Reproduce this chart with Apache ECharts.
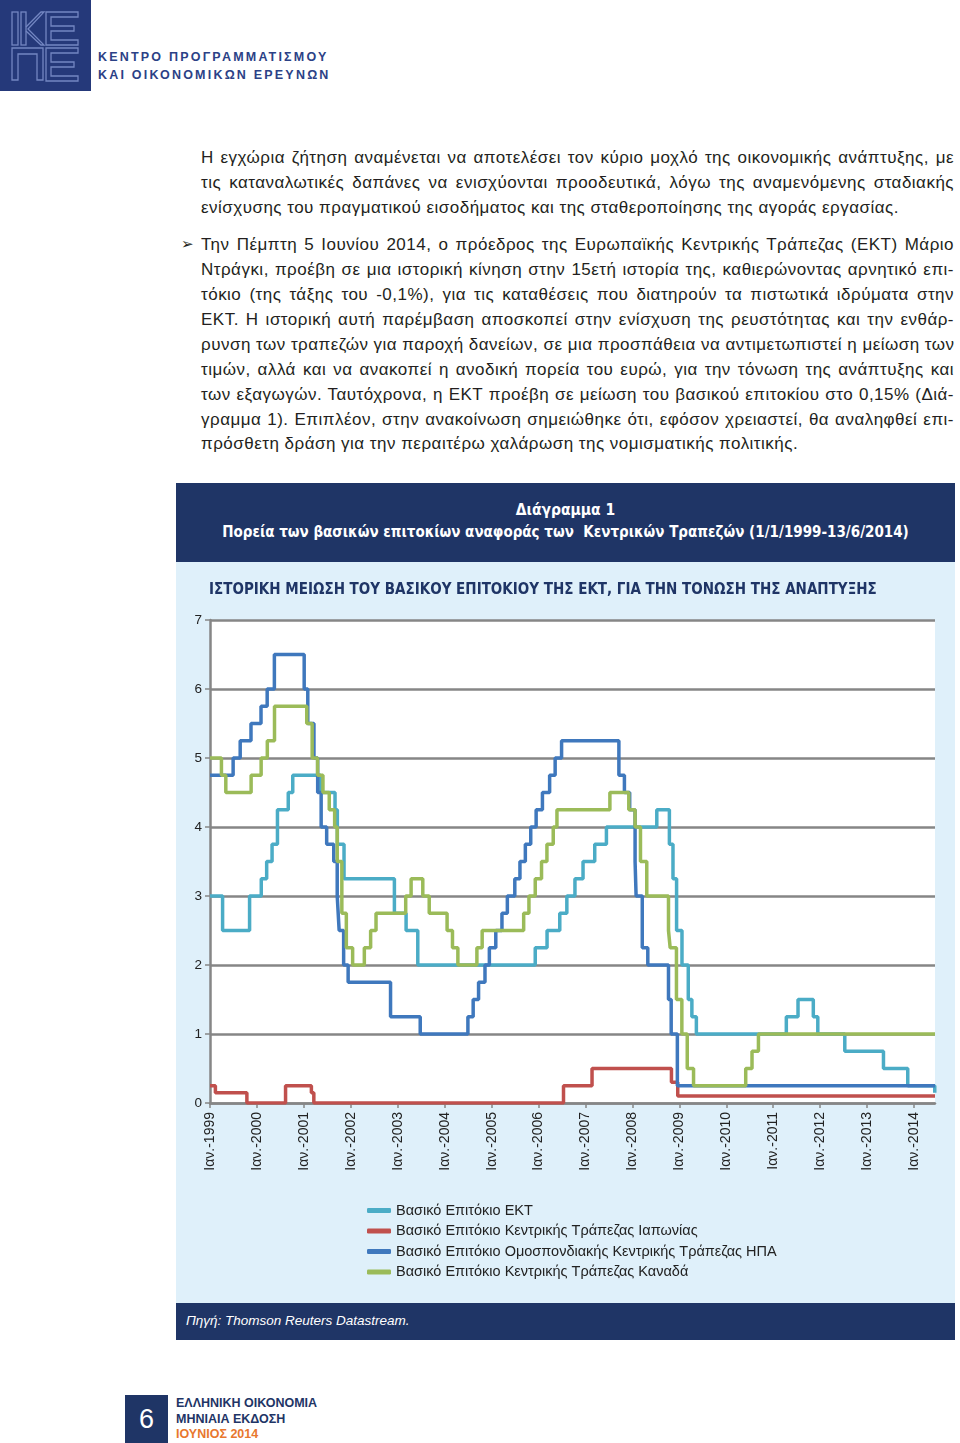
<!DOCTYPE html>
<html>
<head>
<meta charset="utf-8">
<script src="https://cdn.jsdelivr.net/npm/echarts@6/dist/echarts.min.js"></script>
<style>
  body { margin: 0; width: 960px; height: 1443px; position: relative; background: #fff; font-family: "Liberation Sans", Arial, sans-serif; color: #231f20; overflow: hidden; }
  .abs { position: absolute; }
  .hdr { left: 98px; font-size: 12.5px; font-weight: bold; letter-spacing: 2.2px; color: #2b4186; }
  .line { left: 201px; width: 753px; font-size: 17px; letter-spacing: 0.48px; line-height: 25px; height: 25px; text-align: justify; text-align-last: justify; white-space: nowrap; }
  .last { text-align-last: left; }
  .narrow { font-family: "Liberation Sans Narrow", "DejaVu Sans Condensed", sans-serif; font-weight: bold; }
</style>
</head>
<body>
<svg class="abs" style="left:0;top:0" width="91" height="91">
  <rect x="0" y="0" width="91" height="91" fill="#25397a"/>
  <g fill="none" stroke="#7386c2" stroke-width="1.3">
    <rect x="12" y="12" width="6" height="33"/>
    <rect x="21" y="12" width="5" height="33"/>
    <polyline points="26,27 41,12 44,12 28,29 44,45 41,45 26,31"/>
    <path d="M46 12 H78 V17 H51 V26 H74 V31 H51 V40 H78 V45 H46 Z"/>
    <path d="M12 48 H43 V80 H37 V54 H18 V80 H12 Z"/>
    <path d="M46 48 H78 V53 H51 V62 H74 V67 H51 V76 H78 V81 H46 Z"/>
  </g>
</svg>
<div class="abs hdr" style="top:50px">ΚΕΝΤΡΟ ΠΡΟΓΡΑΜΜΑΤΙΣΜΟΥ</div>
<div class="abs hdr" style="top:68px">ΚΑΙ ΟΙΚΟΝΟΜΙΚΩΝ ΕΡΕΥΝΩΝ</div>

<div class="abs line" style="top:145px">Η εγχώρια ζήτηση αναμένεται να αποτελέσει τον κύριο μοχλό της οικονομικής ανάπτυξης, με</div>
<div class="abs line" style="top:170px">τις καταναλωτικές δαπάνες να ενισχύονται προοδευτικά, λόγω της αναμενόμενης σταδιακής</div>
<div class="abs line last" style="top:195px">ενίσχυσης του πραγματικού εισοδήματος και της σταθεροποίησης της αγοράς εργασίας.</div>

<div class="abs" style="left:181px;top:232px;font-size:15px;line-height:25px;font-family:'DejaVu Sans',sans-serif">➢</div>
<div class="abs line" style="top:232px">Την Πέμπτη 5 Ιουνίου 2014, ο πρόεδρος της Ευρωπαϊκής Κεντρικής Τράπεζας (ΕΚΤ) Μάριο</div>
<div class="abs line" style="top:257px">Ντράγκι, προέβη σε μια ιστορική κίνηση στην 15ετή ιστορία της, καθιερώνοντας αρνητικό επι-</div>
<div class="abs line" style="top:282px">τόκιο (της τάξης του -0,1%), για τις καταθέσεις που διατηρούν τα πιστωτικά ιδρύματα στην</div>
<div class="abs line" style="top:307px">ΕΚΤ. Η ιστορική αυτή παρέμβαση αποσκοπεί στην ενίσχυση της ρευστότητας και την ενθάρ-</div>
<div class="abs line" style="top:332px">ρυνση των τραπεζών για παροχή δανείων, σε μια προσπάθεια να αντιμετωπιστεί η μείωση των</div>
<div class="abs line" style="top:357px">τιμών, αλλά και να ανακοπεί η ανοδική πορεία του ευρώ, για την τόνωση της ανάπτυξης και</div>
<div class="abs line" style="top:382px">των εξαγωγών. Ταυτόχρονα, η ΕΚΤ προέβη σε μείωση του βασικού επιτοκίου στο 0,15% (Διά-</div>
<div class="abs line" style="top:407px">γραμμα 1). Επιπλέον, στην ανακοίνωση σημειώθηκε ότι, εφόσον χρειαστεί, θα αναληφθεί επι-</div>
<div class="abs line last" style="top:431px">πρόσθετη δράση για την περαιτέρω χαλάρωση της νομισματικής πολιτικής.</div>

<div class="abs" style="left:176px;top:483px;width:779px;height:79px;background:#1f3566;color:#fff;text-align:center">
  <div class="narrow" style="position:absolute;top:18px;width:100%;font-size:15.5px">Διάγραμμα 1</div>
  <div class="narrow" style="position:absolute;top:40px;width:100%;font-size:15px">Πορεία των βασικών επιτοκίων αναφοράς των&nbsp; Κεντρικών Τραπεζών (1/1/1999-13/6/2014)</div>
</div>
<div id="chart" class="abs" style="left:176px;top:562px;width:779px;height:741px;background:#dff0fa"></div>
<div class="abs" style="left:176px;top:1303px;width:779px;height:37px;background:#1f3566;color:#fff;font-size:13.5px;font-style:italic">
  <div style="position:absolute;left:10px;top:10px">Πηγή: Thomson Reuters Datastream.</div>
</div>

<div class="abs" style="left:125px;top:1395px;width:43px;height:48px;background:#1f3566;color:#fff;font-size:27px;text-align:center;line-height:48px">6</div>
<div class="abs" style="left:176px;top:1396px;font-size:12.5px;font-weight:bold;line-height:15.5px;color:#1f3566">
  ΕΛΛΗΝΙΚΗ ΟΙΚΟΝΟΜΙΑ<br>ΜΗΝΙΑΙΑ ΕΚΔΟΣΗ<br><span style="color:#e8772e">ΙΟΥΝΙΟΣ 2014</span>
</div>

<script>
// series names as in the legend
var seriesNames = [
  "Βασικό Επιτόκιο ΕΚΤ",
  "Βασικό Επιτόκιο Κεντρικής Τράπεζας Ιαπωνίας",
  "Βασικό Επιτόκιο Ομοσπονδιακής Κεντρικής Τράπεζας ΗΠΑ",
  "Βασικό Επιτόκιο Κεντρικής Τράπεζας Καναδά"
];
var seriesColors = ["#4bacc6", "#c0504d", "#3f78bd", "#9bbb59"];

var startDate = "1999-01-01";
var endDate = "2014-06-13";

// ECB main refinancing rate, change dates
var ecbDates = ["1999-01-01", "1999-04-09", "1999-11-05", "2000-02-04", "2000-03-17", "2000-04-28",
  "2000-06-09", "2000-09-01", "2000-10-06", "2001-05-11", "2001-08-31", "2001-09-18", "2001-11-09",
  "2002-12-06", "2003-03-07", "2003-06-06", "2005-12-06", "2006-03-08", "2006-06-15", "2006-08-09",
  "2006-10-11", "2006-12-13", "2007-03-14", "2007-06-13", "2008-07-09", "2008-10-15", "2008-11-12",
  "2008-12-10", "2009-01-21", "2009-03-11", "2009-04-08", "2009-05-13", "2011-04-13", "2011-07-13",
  "2011-11-09", "2011-12-14", "2012-07-11", "2013-05-08", "2013-11-13", "2014-06-11", "2014-06-13"];
var ecbRates = [3.0, 2.5, 3.0, 3.25, 3.5, 3.75,
  4.25, 4.5, 4.75, 4.5, 4.25, 3.75, 3.25,
  2.75, 2.5, 2.0, 2.25, 2.5, 2.75, 3.0,
  3.25, 3.5, 3.75, 4.0, 4.25, 3.75, 3.25,
  2.5, 2.0, 1.5, 1.25, 1.0, 1.25, 1.5,
  1.25, 1.0, 0.75, 0.5, 0.25, 0.15, 0.15];

// Bank of Japan
var bojDates = ["1999-01-01", "1999-02-12", "1999-10-15", "2000-08-11", "2001-02-28", "2001-03-19",
  "2006-07-14", "2007-02-21", "2008-10-31", "2008-12-19", "2014-06-13"];
var bojRates = [0.25, 0.15, 0.0, 0.25, 0.15, 0.0, 0.25, 0.5, 0.3, 0.1, 0.1];

// US Federal Reserve
var fedDates = ["1999-01-01", "1999-06-30", "1999-08-24", "1999-11-16", "2000-02-02", "2000-03-21",
  "2000-05-16", "2001-01-03", "2001-01-31", "2001-03-20", "2001-04-18", "2001-05-15", "2001-06-27",
  "2001-08-21", "2001-09-17", "2001-10-02", "2001-11-06", "2001-12-11", "2002-11-06", "2003-06-25",
  "2004-06-30", "2004-08-10", "2004-09-21", "2004-11-10", "2004-12-14", "2005-02-02", "2005-03-22",
  "2005-05-03", "2005-06-30", "2005-08-09", "2005-09-20", "2005-11-01", "2005-12-13", "2006-01-31",
  "2006-03-28", "2006-05-10", "2006-06-29", "2007-09-18", "2007-10-31", "2007-12-11", "2008-01-22",
  "2008-01-30", "2008-03-18", "2008-04-30", "2008-10-08", "2008-10-29", "2008-12-16", "2014-06-13"];
var fedRates = [4.75, 5.0, 5.25, 5.5, 5.75, 6.0,
  6.5, 6.0, 5.5, 5.0, 4.5, 4.0, 3.75,
  3.5, 3.0, 2.5, 2.0, 1.75, 1.25, 1.0,
  1.25, 1.5, 1.75, 2.0, 2.25, 2.5, 2.75,
  3.0, 3.25, 3.5, 3.75, 4.0, 4.25, 4.5,
  4.75, 5.0, 5.25, 4.75, 4.5, 4.25, 3.5,
  3.0, 2.25, 2.0, 1.5, 1.0, 0.25, 0.25];

// Bank of Canada
var bocDates = ["1999-01-01", "1999-03-31", "1999-05-04", "1999-11-17", "2000-02-03", "2000-03-22",
  "2000-05-17", "2001-01-23", "2001-03-06", "2001-04-17", "2001-05-29", "2001-07-17", "2001-08-28",
  "2001-09-17", "2001-10-23", "2001-11-27", "2002-01-15", "2002-04-16", "2002-06-04", "2002-07-16",
  "2003-03-04", "2003-04-15", "2003-07-15", "2003-09-03", "2004-01-20", "2004-03-02", "2004-04-13",
  "2004-09-08", "2004-10-19", "2005-09-07", "2005-10-18", "2005-12-06", "2006-01-24", "2006-03-07",
  "2006-04-25", "2006-05-24", "2007-07-10", "2007-12-04", "2008-01-22", "2008-03-04", "2008-04-22",
  "2008-10-08", "2008-10-21", "2008-12-09", "2009-01-20", "2009-03-03", "2009-04-21", "2010-06-01",
  "2010-07-20", "2010-09-08", "2014-06-13"];
var bocRates = [5.0, 4.75, 4.5, 4.75, 5.0, 5.25,
  5.75, 5.5, 5.0, 4.75, 4.5, 4.25, 4.0,
  3.5, 2.75, 2.25, 2.0, 2.25, 2.5, 2.75,
  3.0, 3.25, 3.0, 2.75, 2.5, 2.25, 2.0,
  2.25, 2.5, 2.75, 3.0, 3.25, 3.5, 3.75,
  4.0, 4.25, 4.5, 4.25, 4.0, 3.5, 3.0,
  2.5, 2.25, 1.5, 1.0, 0.5, 0.25, 0.5,
  0.75, 1.0, 1.0];

// x-axis tick labels: every January
var tickYears = [1999, 2000, 2001, 2002, 2003, 2004, 2005, 2006, 2007, 2008, 2009, 2010, 2011, 2012, 2013, 2014];
var tickPrefix = "Ιαν.-";

function ts(s) {
  var p = s.split("-");
  return Date.UTC(+p[0], +p[1] - 1, +p[2]);
}
function pairs(dates, rates) {
  return dates.map(function (d, i) { return [ts(d), rates[i]]; });
}

var myChart = echarts.init(document.getElementById("chart"));
var tickValues = tickYears.map(function (y) { return Date.UTC(y, 0, 1); });
var allData = [pairs(ecbDates, ecbRates), pairs(bojDates, bojRates), pairs(fedDates, fedRates), pairs(bocDates, bocRates)];
var grey = "#868686";
var font = "'Liberation Sans', Arial, sans-serif";

var option = {
  animation: false,
  textStyle: { fontFamily: font },
  title: {
    text: "ΙΣΤΟΡΙΚΗ ΜΕΙΩΣΗ ΤΟΥ ΒΑΣΙΚΟΥ ΕΠΙΤΟΚΙΟΥ ΤΗΣ ΕΚΤ, ΓΙΑ ΤΗΝ ΤΟΝΩΣΗ ΤΗΣ ΑΝΑΠΤΥΞΗΣ",
    left: 33,
    top: 21,
    padding: 0,
    textStyle: {
      fontFamily: "'Liberation Sans Narrow', 'DejaVu Sans Condensed', sans-serif",
      fontWeight: "bold",
      fontSize: 15,
      color: "#1f3566"
    }
  },
  legend: {
    orient: "vertical",
    left: 191,
    top: 641,
    padding: 0,
    itemGap: 5.5,
    itemWidth: 24,
    itemHeight: 5,
    icon: "roundRect",
    textStyle: { fontSize: 14.5, color: "#222", fontFamily: font },
    data: seriesNames
  },
  grid: {
    left: 34,
    right: 20,
    top: 58,
    bottom: 200,
    show: true,
    backgroundColor: "#fff",
    borderWidth: 0
  },
  xAxis: {
    type: "value",
    min: ts(startDate),
    max: ts(endDate),
    axisLine: { lineStyle: { color: grey, width: 2.5 } },
    axisTick: { show: true, length: 5, lineStyle: { color: grey, width: 1.5 }, customValues: tickValues },
    axisLabel: {
      customValues: tickValues,
      rotate: 90,
      margin: 9,
      fontSize: 14,
      color: "#222",
      formatter: function (v) { return tickPrefix + new Date(v).getUTCFullYear(); }
    },
    splitLine: { show: false }
  },
  yAxis: {
    type: "value",
    min: 0,
    max: 7,
    interval: 1,
    axisLine: { show: true, lineStyle: { color: grey, width: 2.5 } },
    axisTick: { show: true, length: 5, lineStyle: { color: grey, width: 1.5 } },
    axisLabel: { fontSize: 13.5, color: "#222", margin: 8 },
    splitLine: { lineStyle: { color: grey, width: 2.5 } }
  },
  series: seriesNames.map(function (name, i) {
    return {
      name: name,
      type: "line",
      step: "end",
      showSymbol: false,
      symbol: "none",
      color: seriesColors[i],
      lineStyle: { width: 3.5, color: seriesColors[i] },
      data: allData[i]
    };
  })
};

myChart.setOption(option);
</script>
</body>
</html>
